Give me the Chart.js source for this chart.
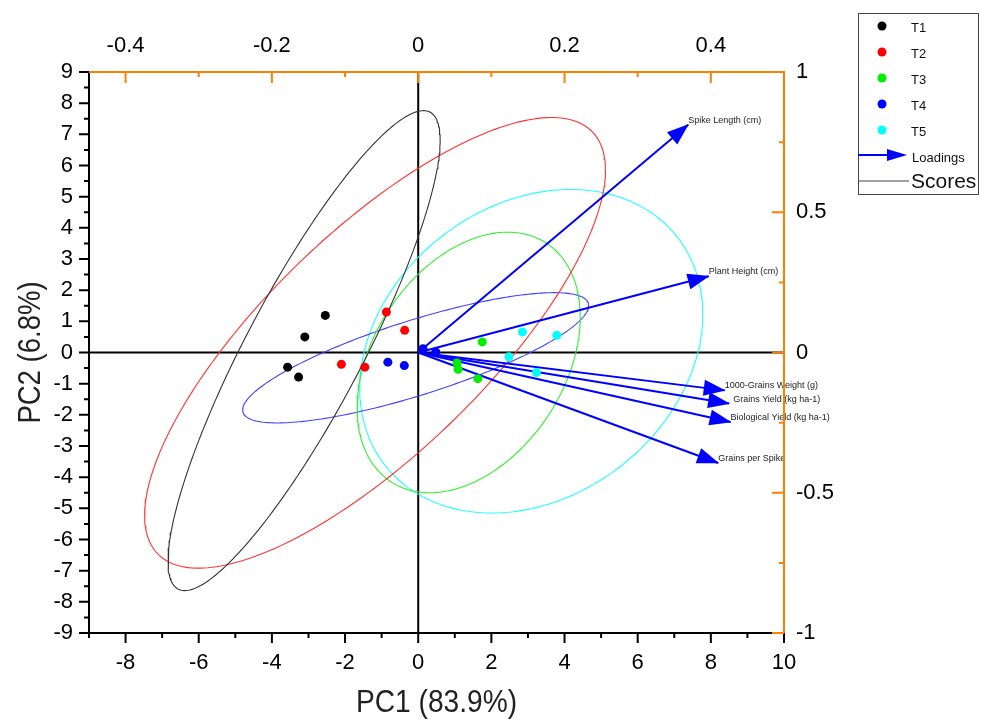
<!DOCTYPE html>
<html><head><meta charset="utf-8">
<script src="https://cdn.jsdelivr.net/npm/chart.js@4.4.0/dist/chart.umd.min.js"></script>
<style>html,body{margin:0;padding:0;background:#fff}canvas{display:block}</style>
</head><body>
<canvas id="c" width="982" height="720"></canvas>
<script>
// ---------- DATA ----------
const groups = ['T1', 'T2', 'T3', 'T4', 'T5'];
const t1PC1 = [-2.54, -3.10, -3.57, -3.27];
const t1PC2 = [1.19, 0.50, -0.47, -0.79];
const t2PC1 = [-0.87, -0.37, -2.10, -1.46];
const t2PC2 = [1.30, 0.71, -0.38, -0.47];
const t3PC1 = [1.75, 1.06, 1.09, 1.63];
const t3PC2 = [0.34, -0.34, -0.54, -0.84];
const t4PC1 = [-0.83, -0.38, 0.13, 0.48];
const t4PC2 = [-0.31, -0.42, 0.12, 0.02];
const t5PC1 = [2.85, 3.79, 2.48, 3.23];
const t5PC2 = [0.66, 0.55, -0.14, -0.64];

const loadingNames = ['Spike Length (cm)', 'Plant Height (cm)', '1000-Grains Weight (g)',
  'Grains Yield (kg ha-1)', 'Biological Yield (kg ha-1)', 'Grains per Spike'];
const loadingPC1 = [0.369, 0.397, 0.419, 0.425, 0.427, 0.410];
const loadingPC2 = [0.812, 0.272, -0.135, -0.182, -0.248, -0.394];

// 95% confidence ellipses of the scores: centre, half-extents and correlation
const ellCenterX = [-3.12, -1.18, 1.38, -0.07, 3.09];
const ellCenterY = [0.06, 0.31, -0.32, -0.17, 0.04];
const ellHalfX = [3.72, 6.30, 3.05, 4.73, 4.69];
const ellHalfY = [7.70, 7.23, 4.18, 2.09, 5.19];
const ellCorr = [0.877, 0.766, 0.35, 0.80, 0.23];

const xTicks = [-8, -6, -4, -2, 0, 2, 4, 6, 8, 10];
const yTicks = [-9, -8, -7, -6, -5, -4, -3, -2, -1, 0, 1, 2, 3, 4, 5, 6, 7, 8, 9];
const topTicks = [-0.4, -0.2, 0, 0.2, 0.4];
const rightTicks = [-1, -0.5, 0, 0.5, 1];

// ---------- STYLE ----------
const groupColors = ['#000000', '#FF0000', '#00EE00', '#0000FF', '#00FFFF'];
const ellColors = ['#333333', '#FF3333', '#33EE33', '#4444FF', '#22FFFF'];
const ORANGE = '#FF8000';
const ARROW = '#0000FF';
const NARROW = "'Liberation Sans Narrow','Arial Narrow','Liberation Sans',Arial,sans-serif";
const SANS = "'Liberation Sans',Arial,sans-serif";

const scorePC1 = [t1PC1, t2PC1, t3PC1, t4PC1, t5PC1];
const scorePC2 = [t1PC2, t2PC2, t3PC2, t4PC2, t5PC2];

const datasets = [];
groups.forEach((g, i) => {
  datasets.push({
    label: g, type: 'scatter', order: 0,
    data: scorePC1[i].map((x, k) => ({ x, y: scorePC2[i][k] })),
    pointRadius: 4.5, pointHoverRadius: 4.5, borderWidth: 0,
    backgroundColor: groupColors[i], pointBackgroundColor: groupColors[i], showLine: false,
    xAxisID: 'x', yAxisID: 'y'
  });
});
loadingNames.forEach((n, i) => {
  datasets.push({
    label: n, type: 'line', order: 1, isLoading: true,
    data: [{ x: 0, y: 0 }, { x: loadingPC1[i], y: loadingPC2[i] }],
    borderColor: ARROW, borderWidth: 2, pointRadius: 0, fill: false, tension: 0,
    xAxisID: 'x2', yAxisID: 'y2'
  });
});
groups.forEach((g, i) => {
  const pts = [];
  const r = ellCorr[i], s = Math.sqrt(1 - r * r);
  for (let k = 0; k <= 240; k++) {
    const t = 2 * Math.PI * k / 240;
    pts.push({ x: ellCenterX[i] + ellHalfX[i] * Math.cos(t),
               y: ellCenterY[i] + ellHalfY[i] * (r * Math.cos(t) + s * Math.sin(t)) });
  }
  datasets.push({
    label: g + ' ellipse', type: 'line', order: 2, data: pts,
    borderColor: ellColors[i], borderWidth: 1.1, pointRadius: 0, fill: false, tension: 0,
    xAxisID: 'x', yAxisID: 'y'
  });
});

const setTicks = arr => scale => { scale.ticks = arr.map(v => ({ value: v })); };
const tickFont = { family: NARROW, size: 22 };

const decor = {
  id: 'decor',
  beforeDatasetsDraw(chart) {
    const { ctx, chartArea: a, scales } = chart;
    ctx.save();
    ctx.strokeStyle = '#000'; ctx.lineWidth = 2;
    const x0 = scales.x.getPixelForValue(0), y0 = scales.y.getPixelForValue(0);
    ctx.beginPath();
    ctx.moveTo(x0, a.top); ctx.lineTo(x0, a.bottom);
    ctx.moveTo(a.left, y0); ctx.lineTo(a.right, y0);
    ctx.stroke();
    ctx.restore();
  },
  afterDatasetsDraw(chart) {
    const { ctx } = chart;
    ctx.save();
    chart.data.datasets.forEach((ds, di) => {
      if (!ds.isLoading) return;
      const meta = chart.getDatasetMeta(di);
      const p0 = meta.data[0], p1 = meta.data[1];
      const ang = Math.atan2(p1.y - p0.y, p1.x - p0.x);
      const L = 21, W = 8;
      const bx = p1.x - L * Math.cos(ang), by = p1.y - L * Math.sin(ang);
      ctx.fillStyle = ARROW;
      ctx.beginPath();
      ctx.moveTo(p1.x + Math.cos(ang), p1.y + Math.sin(ang));
      ctx.lineTo(bx + W * Math.sin(ang), by - W * Math.cos(ang));
      ctx.lineTo(bx - W * Math.sin(ang), by + W * Math.cos(ang));
      ctx.closePath(); ctx.fill();
      ctx.fillStyle = '#222';
      ctx.font = '9px ' + SANS;
      ctx.textAlign = 'left'; ctx.textBaseline = 'alphabetic';
      const dx = ds.label.startsWith('Grains Yield') ? 4 : 0;
      ctx.fillText(ds.label, p1.x + dx, p1.y - 2);
    });
    ctx.restore();
  },
  afterDraw(chart) {
    const { ctx, chartArea: a, scales } = chart;
    ctx.save();
    // axis lines
    ctx.lineWidth = 2;
    ctx.strokeStyle = '#000';
    ctx.beginPath();
    ctx.moveTo(a.left, a.top); ctx.lineTo(a.left, a.bottom);
    ctx.moveTo(a.left - 1, a.bottom); ctx.lineTo(a.right, a.bottom);
    ctx.stroke();
    ctx.strokeStyle = ORANGE;
    ctx.beginPath();
    ctx.moveTo(a.left - 1, a.top); ctx.lineTo(a.right + 1, a.top);
    ctx.moveTo(a.right, a.top); ctx.lineTo(a.right, a.bottom + 1);
    ctx.stroke();
    // ticks
    ctx.lineWidth = 2;
    ctx.strokeStyle = '#000';
    ctx.beginPath();
    for (let v = -9; v <= 10; v++) {
      const px = scales.x.getPixelForValue(v);
      const len = (v % 2 === 0) ? 10 : 5;
      ctx.moveTo(px, a.bottom); ctx.lineTo(px, a.bottom + len);
    }
    for (let k = -18; k <= 18; k++) {
      const v = k / 2;
      const py = scales.y.getPixelForValue(v);
      const len = (k % 2 === 0) ? 10 : 5;
      ctx.moveTo(a.left, py); ctx.lineTo(a.left - len, py);
    }
    ctx.stroke();
    ctx.strokeStyle = ORANGE;
    ctx.beginPath();
    for (let k = -4; k <= 4; k++) {
      const px = scales.x2.getPixelForValue(k / 10);
      const len = (k % 2 === 0) ? 11 : 5;
      ctx.moveTo(px, a.top); ctx.lineTo(px, a.top + len);
    }
    for (let k = -4; k <= 4; k++) {
      const py = scales.y2.getPixelForValue(k / 4);
      const len = (k % 2 === 0) ? 12 : 5;
      ctx.moveTo(a.right, py); ctx.lineTo(a.right - len, py);
    }
    ctx.stroke();
    // axis titles (condensed look)
    ctx.fillStyle = '#222';
    ctx.font = '32px ' + NARROW;
    ctx.textAlign = 'center'; ctx.textBaseline = 'middle';
    ctx.save();
    ctx.translate((a.left + a.right) / 2, 703);
    ctx.scale(0.88, 1);
    ctx.fillText('PC1 (83.9%)', 0, 0);
    ctx.restore();
    ctx.save();
    ctx.translate(31, (a.top + a.bottom) / 2);
    ctx.rotate(-Math.PI / 2);
    ctx.scale(0.86, 1);
    ctx.fillText('PC2 (6.8%)', 0, 0);
    ctx.restore();
    // legend
    const lx = 858, ly = 13, lw = 120, lh = 181;
    ctx.strokeStyle = '#444'; ctx.lineWidth = 1;
    ctx.strokeRect(lx + 0.5, ly + 0.5, lw, lh);
    ctx.font = '13px ' + SANS;
    ctx.textAlign = 'left'; ctx.textBaseline = 'middle';
    groups.forEach((g, i) => {
      const yy = 26 + i * 26;
      ctx.fillStyle = groupColors[i];
      ctx.beginPath(); ctx.arc(882, yy, 4.5, 0, 2 * Math.PI); ctx.fill();
      ctx.fillStyle = '#111';
      ctx.fillText(g, 911, yy + 2);
    });
    // loadings legend
    ctx.strokeStyle = ARROW; ctx.lineWidth = 2;
    ctx.beginPath(); ctx.moveTo(lx, 155); ctx.lineTo(890, 155); ctx.stroke();
    ctx.fillStyle = ARROW;
    ctx.beginPath(); ctx.moveTo(907, 155); ctx.lineTo(887, 149); ctx.lineTo(887, 161); ctx.closePath(); ctx.fill();
    ctx.fillStyle = '#111';
    ctx.fillText('Loadings', 912, 158);
    // scores legend
    ctx.strokeStyle = '#444'; ctx.lineWidth = 1;
    ctx.beginPath(); ctx.moveTo(lx, 181); ctx.lineTo(909, 181); ctx.stroke();
    ctx.font = '21px ' + SANS;
    ctx.fillText('Scores', 911, 182);
    ctx.restore();
  }
};

new Chart(document.getElementById('c'), {
  type: 'scatter',
  data: { datasets },
  options: {
    responsive: false, animation: false, devicePixelRatio: 1,
    layout: { padding: 0 },
    plugins: { legend: { display: false }, tooltip: { enabled: false } },
    scales: {
      x: {
        type: 'linear', position: 'bottom', min: -9, max: 10,
        afterBuildTicks: setTicks(xTicks),
        afterFit: s => { s.height = 87; },
        grid: { display: false, drawTicks: false }, border: { display: false },
        ticks: { font: tickFont, color: '#000', padding: 17, autoSkip: false, maxRotation: 0, callback: v => String(v) }
      },
      y: {
        type: 'linear', position: 'left', min: -9, max: 9,
        afterBuildTicks: setTicks(yTicks),
        afterFit: s => { s.width = 89; },
        grid: { display: false, drawTicks: false }, border: { display: false },
        ticks: { font: tickFont, color: '#000', padding: 16, autoSkip: false, callback: v => String(v) }
      },
      x2: {
        type: 'linear', position: 'top', min: -0.45, max: 0.5,
        afterBuildTicks: setTicks(topTicks),
        afterFit: s => { s.height = 72; },
        grid: { display: false, drawTicks: false }, border: { display: false },
        ticks: { font: tickFont, color: '#000', padding: 13, autoSkip: false, maxRotation: 0,
          callback: v => (Math.abs(v) < 1e-9 ? '0' : v.toFixed(1)) }
      },
      y2: {
        type: 'linear', position: 'right', min: -1, max: 1,
        afterBuildTicks: setTicks(rightTicks),
        afterFit: s => { s.width = 198; },
        grid: { display: false, drawTicks: false }, border: { display: false },
        ticks: { font: tickFont, color: '#000', padding: 12, autoSkip: false, callback: v => String(v) }
      }
    }
  },
  plugins: [decor]
});
</script>
</body></html>
